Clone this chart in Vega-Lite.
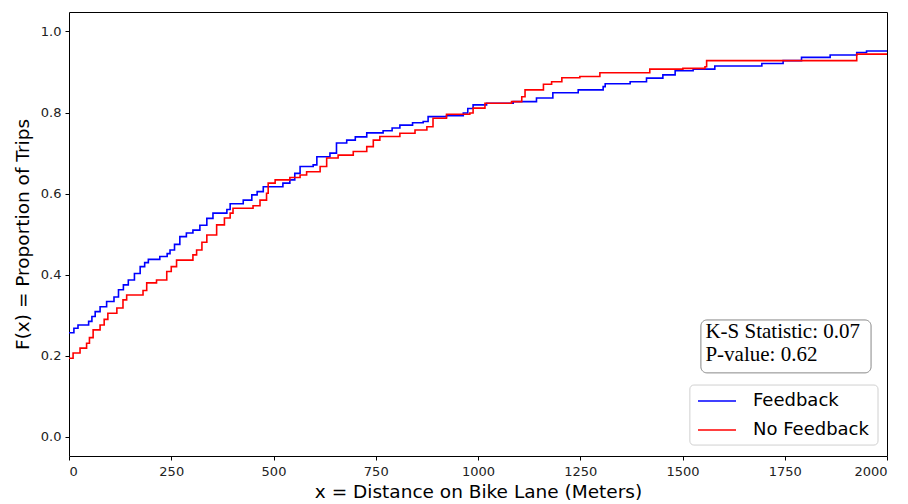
{
  "$schema": "https://vega.github.io/schema/vega-lite/v6.json",
  "width": 818,
  "height": 444,
  "autosize": {"type": "none"},
  "padding": {"left": 69, "top": 12, "right": 21, "bottom": 48},
  "background": "white",
  "config": {
    "view": {"stroke": "black", "strokeWidth": 1},
    "font": "DejaVu Sans",
    "axis": {"grid": false, "domain": false, "tickColor": "black", "tickSize": 4, "labelFontSize": 13, "labelColor": "#222", "titleFontSize": 18.5, "titleFontWeight": "normal", "titleColor": "black", "labelFont": "DejaVu Sans", "titleFont": "DejaVu Sans"}
  },
  "datasets": {
    "ecdf": [
      {"group": "Feedback", "x": 0, "y": 0.257},
      {"group": "Feedback", "x": 12, "y": 0.268},
      {"group": "Feedback", "x": 22, "y": 0.276},
      {"group": "Feedback", "x": 48, "y": 0.285},
      {"group": "Feedback", "x": 56, "y": 0.297},
      {"group": "Feedback", "x": 64, "y": 0.309},
      {"group": "Feedback", "x": 76, "y": 0.321},
      {"group": "Feedback", "x": 92, "y": 0.334},
      {"group": "Feedback", "x": 110, "y": 0.345},
      {"group": "Feedback", "x": 121, "y": 0.363},
      {"group": "Feedback", "x": 133, "y": 0.375},
      {"group": "Feedback", "x": 145, "y": 0.387},
      {"group": "Feedback", "x": 160, "y": 0.403},
      {"group": "Feedback", "x": 174, "y": 0.42},
      {"group": "Feedback", "x": 185, "y": 0.43},
      {"group": "Feedback", "x": 194, "y": 0.438},
      {"group": "Feedback", "x": 222, "y": 0.445},
      {"group": "Feedback", "x": 240, "y": 0.452},
      {"group": "Feedback", "x": 247, "y": 0.461},
      {"group": "Feedback", "x": 258, "y": 0.475},
      {"group": "Feedback", "x": 271, "y": 0.494},
      {"group": "Feedback", "x": 287, "y": 0.503},
      {"group": "Feedback", "x": 303, "y": 0.51},
      {"group": "Feedback", "x": 320, "y": 0.522},
      {"group": "Feedback", "x": 337, "y": 0.539},
      {"group": "Feedback", "x": 352, "y": 0.552},
      {"group": "Feedback", "x": 386, "y": 0.561},
      {"group": "Feedback", "x": 394, "y": 0.575},
      {"group": "Feedback", "x": 426, "y": 0.584},
      {"group": "Feedback", "x": 447, "y": 0.597},
      {"group": "Feedback", "x": 460, "y": 0.605},
      {"group": "Feedback", "x": 475, "y": 0.617},
      {"group": "Feedback", "x": 523, "y": 0.626},
      {"group": "Feedback", "x": 540, "y": 0.634},
      {"group": "Feedback", "x": 552, "y": 0.65},
      {"group": "Feedback", "x": 565, "y": 0.667},
      {"group": "Feedback", "x": 597, "y": 0.671},
      {"group": "Feedback", "x": 606, "y": 0.691},
      {"group": "Feedback", "x": 638, "y": 0.70},
      {"group": "Feedback", "x": 654, "y": 0.725},
      {"group": "Feedback", "x": 679, "y": 0.732},
      {"group": "Feedback", "x": 700, "y": 0.74},
      {"group": "Feedback", "x": 728, "y": 0.75},
      {"group": "Feedback", "x": 768, "y": 0.755},
      {"group": "Feedback", "x": 790, "y": 0.762},
      {"group": "Feedback", "x": 809, "y": 0.769},
      {"group": "Feedback", "x": 840, "y": 0.775},
      {"group": "Feedback", "x": 866, "y": 0.778},
      {"group": "Feedback", "x": 878, "y": 0.79},
      {"group": "Feedback", "x": 923, "y": 0.792},
      {"group": "Feedback", "x": 964, "y": 0.799},
      {"group": "Feedback", "x": 975, "y": 0.81},
      {"group": "Feedback", "x": 988, "y": 0.819},
      {"group": "Feedback", "x": 1021, "y": 0.823},
      {"group": "Feedback", "x": 1086, "y": 0.827},
      {"group": "Feedback", "x": 1143, "y": 0.836},
      {"group": "Feedback", "x": 1183, "y": 0.849},
      {"group": "Feedback", "x": 1245, "y": 0.856},
      {"group": "Feedback", "x": 1306, "y": 0.864},
      {"group": "Feedback", "x": 1311, "y": 0.871},
      {"group": "Feedback", "x": 1372, "y": 0.876},
      {"group": "Feedback", "x": 1412, "y": 0.885},
      {"group": "Feedback", "x": 1452, "y": 0.893},
      {"group": "Feedback", "x": 1482, "y": 0.903},
      {"group": "Feedback", "x": 1526, "y": 0.907},
      {"group": "Feedback", "x": 1579, "y": 0.915},
      {"group": "Feedback", "x": 1694, "y": 0.921},
      {"group": "Feedback", "x": 1746, "y": 0.928},
      {"group": "Feedback", "x": 1791, "y": 0.936},
      {"group": "Feedback", "x": 1861, "y": 0.942},
      {"group": "Feedback", "x": 1926, "y": 0.948},
      {"group": "Feedback", "x": 1950, "y": 0.952},
      {"group": "Feedback", "x": 2000, "y": 0.952},
      {"group": "No Feedback", "x": 0, "y": 0.194},
      {"group": "No Feedback", "x": 10, "y": 0.207},
      {"group": "No Feedback", "x": 27, "y": 0.219},
      {"group": "No Feedback", "x": 43, "y": 0.231},
      {"group": "No Feedback", "x": 50, "y": 0.245},
      {"group": "No Feedback", "x": 59, "y": 0.264},
      {"group": "No Feedback", "x": 76, "y": 0.276},
      {"group": "No Feedback", "x": 86, "y": 0.29},
      {"group": "No Feedback", "x": 95, "y": 0.305},
      {"group": "No Feedback", "x": 117, "y": 0.318},
      {"group": "No Feedback", "x": 132, "y": 0.338},
      {"group": "No Feedback", "x": 141, "y": 0.35},
      {"group": "No Feedback", "x": 181, "y": 0.361},
      {"group": "No Feedback", "x": 190, "y": 0.38},
      {"group": "No Feedback", "x": 214, "y": 0.387},
      {"group": "No Feedback", "x": 239, "y": 0.408},
      {"group": "No Feedback", "x": 250, "y": 0.42},
      {"group": "No Feedback", "x": 263, "y": 0.436},
      {"group": "No Feedback", "x": 303, "y": 0.449},
      {"group": "No Feedback", "x": 312, "y": 0.461},
      {"group": "No Feedback", "x": 325, "y": 0.48},
      {"group": "No Feedback", "x": 337, "y": 0.498},
      {"group": "No Feedback", "x": 361, "y": 0.523},
      {"group": "No Feedback", "x": 380, "y": 0.54},
      {"group": "No Feedback", "x": 394, "y": 0.552},
      {"group": "No Feedback", "x": 401, "y": 0.564},
      {"group": "No Feedback", "x": 450, "y": 0.57},
      {"group": "No Feedback", "x": 467, "y": 0.584},
      {"group": "No Feedback", "x": 483, "y": 0.601},
      {"group": "No Feedback", "x": 487, "y": 0.626},
      {"group": "No Feedback", "x": 504, "y": 0.634},
      {"group": "No Feedback", "x": 540, "y": 0.64},
      {"group": "No Feedback", "x": 565, "y": 0.646},
      {"group": "No Feedback", "x": 581, "y": 0.654},
      {"group": "No Feedback", "x": 614, "y": 0.667},
      {"group": "No Feedback", "x": 630, "y": 0.688},
      {"group": "No Feedback", "x": 658, "y": 0.695},
      {"group": "No Feedback", "x": 695, "y": 0.704},
      {"group": "No Feedback", "x": 728, "y": 0.716},
      {"group": "No Feedback", "x": 744, "y": 0.732},
      {"group": "No Feedback", "x": 760, "y": 0.741},
      {"group": "No Feedback", "x": 809, "y": 0.749},
      {"group": "No Feedback", "x": 846, "y": 0.757},
      {"group": "No Feedback", "x": 875, "y": 0.765},
      {"group": "No Feedback", "x": 890, "y": 0.786},
      {"group": "No Feedback", "x": 923, "y": 0.796},
      {"group": "No Feedback", "x": 980, "y": 0.799},
      {"group": "No Feedback", "x": 988, "y": 0.811},
      {"group": "No Feedback", "x": 1017, "y": 0.823},
      {"group": "No Feedback", "x": 1082, "y": 0.827},
      {"group": "No Feedback", "x": 1107, "y": 0.839},
      {"group": "No Feedback", "x": 1115, "y": 0.856},
      {"group": "No Feedback", "x": 1152, "y": 0.856},
      {"group": "No Feedback", "x": 1160, "y": 0.87},
      {"group": "No Feedback", "x": 1180, "y": 0.876},
      {"group": "No Feedback", "x": 1205, "y": 0.886},
      {"group": "No Feedback", "x": 1249, "y": 0.889},
      {"group": "No Feedback", "x": 1298, "y": 0.898},
      {"group": "No Feedback", "x": 1420, "y": 0.907},
      {"group": "No Feedback", "x": 1501, "y": 0.909},
      {"group": "No Feedback", "x": 1555, "y": 0.913},
      {"group": "No Feedback", "x": 1559, "y": 0.928},
      {"group": "No Feedback", "x": 1926, "y": 0.944},
      {"group": "No Feedback", "x": 2000, "y": 0.944}
    ],
    "box": [
      {"x1": 1545, "x2": 1961, "y1": 0.158, "y2": 0.2885}
    ],
    "legendbox": [
      {"x1": 1518, "x2": 1978, "y1": -0.02, "y2": 0.128}
    ],
    "stats": [
      {"x": 1556, "y": 0.259, "label": "K-S Statistic: 0.07"},
      {"x": 1556, "y": 0.203, "label": "P-value: 0.62"}
    ]
  },
  "layer": [
    {
      "data": {"name": "legendbox"},
      "mark": {"type": "rect", "fill": "white", "stroke": "#d0d0d0", "strokeWidth": 1, "cornerRadius": 4},
      "encoding": {
        "x": {"field": "x1", "type": "quantitative"},
        "x2": {"field": "x2"},
        "y": {"field": "y1", "type": "quantitative"},
        "y2": {"field": "y2"}
      }
    },
    {
      "data": {"name": "ecdf"},
      "mark": {"type": "line", "interpolate": "step-after", "strokeWidth": 1.6},
      "encoding": {
        "x": {"field": "x", "type": "quantitative", "scale": {"domain": [0, 2000], "nice": false, "zero": false},
              "axis": {"values": [0, 250, 500, 750, 1000, 1250, 1500, 1750, 2000], "format": "d", "title": "x = Distance on Bike Lane (Meters)", "titlePadding": 4, "labelPadding": 5}},
        "y": {"field": "y", "type": "quantitative", "scale": {"domain": [-0.047, 1.048], "nice": false, "zero": false},
              "axis": {"values": [0, 0.2, 0.4, 0.6, 0.8, 1.0], "format": ".1f", "title": "F(x) = Proportion of Trips", "titlePadding": 8, "labelPadding": 4}},
        "color": {"field": "group", "type": "nominal",
                  "scale": {"domain": ["Feedback", "No Feedback"], "range": ["blue", "red"]},
                  "legend": {"title": null, "orient": "none", "legendX": 628, "legendY": 369,
                             "symbolType": "stroke", "symbolSize": 1444, "symbolStrokeWidth": 1.6,
                             "labelFontSize": 18, "labelFont": "DejaVu Sans", "labelColor": "black", "labelOffset": 16,
                             "rowPadding": -11, "padding": 0}}
      }
    },
    {
      "data": {"name": "box"},
      "mark": {"type": "rect", "fill": "white", "stroke": "#888888", "strokeWidth": 1, "cornerRadius": 6},
      "encoding": {
        "x": {"field": "x1", "type": "quantitative"},
        "x2": {"field": "x2"},
        "y": {"field": "y1", "type": "quantitative"},
        "y2": {"field": "y2"}
      }
    },
    {
      "data": {"name": "stats"},
      "mark": {"type": "text", "align": "left", "baseline": "middle", "font": "Liberation Serif", "fontSize": 21, "color": "black"},
      "encoding": {
        "x": {"field": "x", "type": "quantitative"},
        "y": {"field": "y", "type": "quantitative"},
        "text": {"field": "label"}
      }
    }
  ]
}
